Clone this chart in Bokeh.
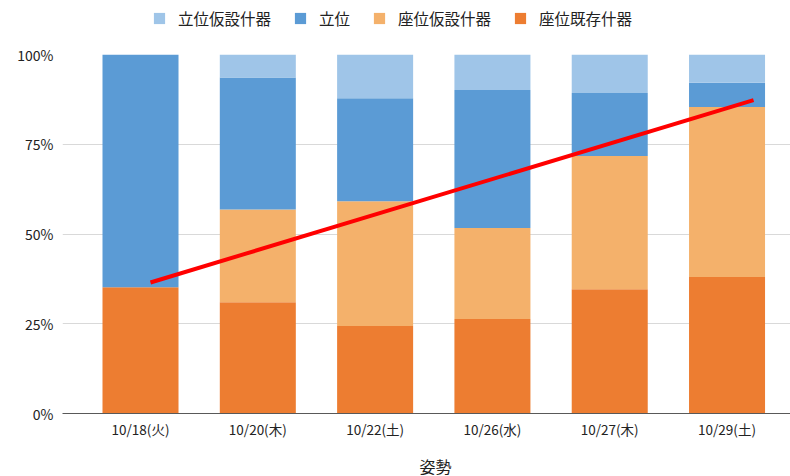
from bokeh.plotting import figure
from bokeh.layouts import column
from bokeh.models import (ColumnDataSource, FixedTicker, NumeralTickFormatter,
                          Legend, LegendItem, Range1d, Label)
from bokeh.embed import file_html
from bokeh.resources import INLINE

# ---- data ----
dates = ["10/18(火)", "10/20(木)", "10/22(土)", "10/26(水)", "10/27(木)", "10/29(土)"]
positions = [1, 2, 3, 4, 5, 6]
seat_existing = [0.352, 0.310, 0.244, 0.263, 0.346, 0.380]   # 座位既存什器
seat_temp = [0.000, 0.258, 0.347, 0.254, 0.371, 0.474]       # 座位仮設什器
standing = [0.648, 0.368, 0.287, 0.384, 0.176, 0.067]        # 立位
standing_temp = [0.000, 0.064, 0.122, 0.099, 0.107, 0.079]   # 立位仮設什器
series = ["座位既存什器", "座位仮設什器", "立位", "立位仮設什器"]
colors = ["#ed7d31", "#f4b16b", "#5b9bd5", "#9fc5e8"]
legend_order = ["立位仮設什器", "立位", "座位仮設什器", "座位既存什器"]
trend_x = [1.085, 6.226]
trend_y = [0.365, 0.873]
y_ticks = [0, 0.25, 0.5, 0.75, 1.0]
x_title = "姿勢"

FONT = "Noto Sans CJK JP"
TEXT = "#222222"
W = 790

src = ColumnDataSource(dict(x=positions,
                            座位既存什器=seat_existing,
                            座位仮設什器=seat_temp,
                            立位=standing,
                            立位仮設什器=standing_temp))

# ---------- legend strip (its ranges keep the helper bars out of view) ----------
leg_fig = figure(width=W, height=36, output_backend="svg", toolbar_location=None,
                 x_range=Range1d(100, 101), y_range=Range1d(100, 101),
                 x_axis_type=None, y_axis_type=None,
                 min_border_left=0, min_border_right=0, min_border_top=0,
                 min_border_bottom=0)
leg_fig.outline_line_color = None
leg_fig.grid.grid_line_color = None
leg_renderers = leg_fig.vbar_stack(series, x="x", width=0.648, source=src,
                                   fill_color=colors, line_color=colors, line_width=0)
leg_map = dict(zip(series, leg_renderers))
legend = Legend(items=[LegendItem(label=n, renderers=[leg_map[n]]) for n in legend_order],
                orientation="horizontal", location=(90, 7),
                glyph_width=14, glyph_height=14, label_standoff=12, spacing=22,
                padding=0, margin=0, border_line_color=None,
                background_fill_alpha=0, label_text_font=FONT,
                label_text_font_size="15.5px", label_text_color=TEXT,
                label_height=14)
leg_fig.add_layout(legend, "center")

# ---------- main chart ----------
p_main = figure(width=W, height=409, output_backend="svg", toolbar_location=None,
                x_range=Range1d(0.335, 6.541), y_range=Range1d(0, 1.0),
                min_border_left=62, min_border_right=0, min_border_top=18,
                min_border_bottom=32)
p_main.outline_line_color = None

p_main.vbar_stack(series, x="x", width=0.648, source=src,
                  fill_color=colors, line_color=colors, line_width=0)
p_main.line(trend_x, trend_y, line_color="#ff0000", line_width=4)

xa = p_main.xaxis[0]
xa.ticker = FixedTicker(ticks=positions)
xa.major_label_overrides = {k: v for k, v in zip(positions, dates)}
xa.major_tick_line_color = None
xa.major_tick_out = 0
xa.major_tick_in = 0
xa.minor_tick_line_color = None
xa.axis_line_color = "#595959"
xa.axis_line_width = 1
xa.major_label_text_font = FONT
xa.major_label_text_font_size = "13.5px"
xa.major_label_text_color = TEXT
xa.major_label_standoff = 5

ya = p_main.yaxis[0]
ya.ticker = FixedTicker(ticks=y_ticks)
ya.formatter = NumeralTickFormatter(format="0%")
ya.axis_line_color = None
ya.major_tick_line_color = None
ya.major_tick_out = 0
ya.major_tick_in = 0
ya.minor_tick_line_color = None
ya.major_label_text_font = FONT
ya.major_label_text_font_size = "14px"
ya.major_label_text_color = TEXT
ya.major_label_standoff = 9

p_main.xgrid.grid_line_color = None
p_main.ygrid.grid_line_color = "#d9d9d9"
p_main.ygrid.grid_line_width = 1
p_main.ygrid.ticker = FixedTicker(ticks=y_ticks)

# ---------- x-axis title strip ----------
title_fig = figure(width=W, height=31, output_backend="svg", toolbar_location=None,
                   x_range=Range1d(0, 1), y_range=Range1d(0, 1),
                   x_axis_type=None, y_axis_type=None,
                   min_border_left=0, min_border_right=0, min_border_top=0,
                   min_border_bottom=0)
title_fig.outline_line_color = None
title_fig.grid.grid_line_color = None
title_fig.add_layout(Label(x=373, y=11, x_units="screen", y_units="screen",
                           text=x_title, text_font=FONT, text_font_size="16px",
                           text_color=TEXT, text_align="center",
                           text_baseline="middle"))

p = column(leg_fig, p_main, title_fig, spacing=0)

open("out.html", "w").write(file_html(p, INLINE))
